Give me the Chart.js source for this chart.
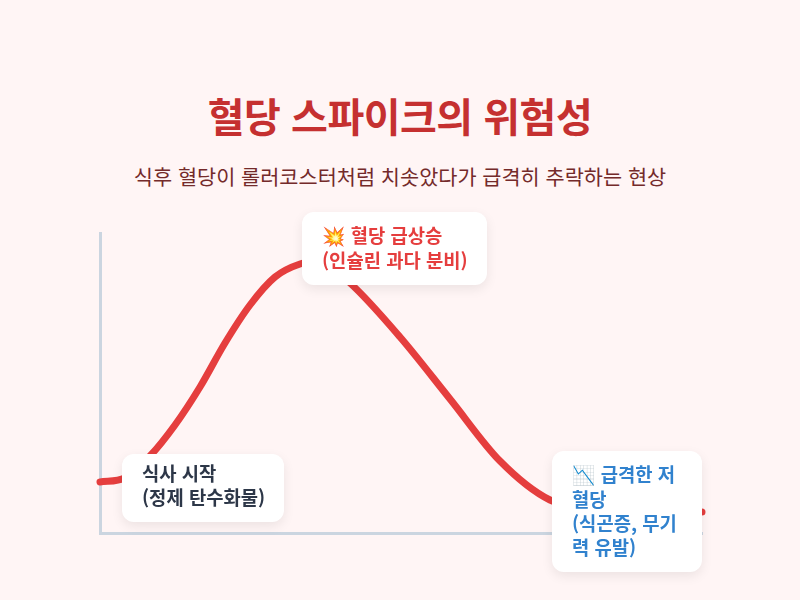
<!DOCTYPE html>
<html lang="ko">
<head>
<meta charset="utf-8">
<title>혈당 스파이크의 위험성</title>
<script src="https://cdn.jsdelivr.net/npm/chart.js@4"></script>
<style>
  html, body { margin: 0; padding: 0; }
  body {
    width: 800px; height: 600px; overflow: hidden; position: relative;
    background: #fff5f5;
    font-family: "Noto Sans CJK KR", "Noto Color Emoji", sans-serif;
  }
  h1 {
    position: absolute; left: 0; top: 85px; width: 800px; margin: 0;
    text-align: center; font-size: 40px; line-height: 60px; font-weight: 700; color: #c53030;
    letter-spacing: -0.5px;
  }
  p.sub {
    position: absolute; left: 0; top: 161px; width: 800px; margin: 0;
    text-align: center; font-size: 20.8px; line-height: 30px; color: #742a2a;
  }
  #wrap { position: absolute; left: 90px; top: 222px; width: 623px; height: 322px; }
  .card {
    position: absolute; box-sizing: border-box;
    background: #fff; border-radius: 12px; padding: 10px 20px 0;
    box-shadow: 0 4px 12px rgba(0,0,0,.08);
    font-size: 18.8px; line-height: 24px; font-weight: 700; white-space: nowrap;
  }
  .card span { line-height: 26px; display: inline-block; }
  #c1 { left: 122px; top: 454px; width: 162px; height: 68px; color: #2d3748; padding-top: 7px; }
  #c2 { left: 302px; top: 212px; width: 185px; height: 73px; color: #e53e3e; }
  #c3 { left: 552px; top: 451px; width: 150px; height: 121px; color: #3182ce; }
</style>
</head>
<body>
<h1>혈당 스파이크의 위험성</h1>
<p class="sub">식후 혈당이 롤러코스터처럼 치솟았다가 급격히 추락하는 현상</p>
<div id="wrap"><canvas id="curve" width="623" height="322"></canvas></div>
<div class="card" id="c1">식사 시작<br>(정제 탄수화물)</div>
<div class="card" id="c2"><span>💥 혈당 급상승</span><br>(인슐린 과다 분비)</div>
<div class="card" id="c3"><span>📉 급격한 저</span><br>혈당<br>(식곤증, 무기<br>력 유발)</div>
<script>
const minutes = [0, 25, 50, 75, 100, 125, 150, 175, 200, 220, 250, 300, 350, 400, 450, 500, 550, 602];
const glucose = [51, 55, 77, 108, 146, 190, 228, 256, 269, 272, 250, 196, 134, 72, 33, 23, 21, 21];

new Chart(document.getElementById('curve'), {
  type: 'line',
  data: {
    datasets: [{
      data: minutes.map((m, i) => ({ x: m, y: glucose[i] })),
      borderColor: '#e53e3e',
      borderWidth: 7,
      borderCapStyle: 'round',
      borderJoinStyle: 'round',
      pointRadius: 0,
      cubicInterpolationMode: 'monotone',
      clip: false,
      fill: false,
    }]
  },
  options: {
    responsive: false,
    animation: false,
    layout: { padding: { left: 10, right: 11, top: 11, bottom: 11 } },
    plugins: { legend: { display: false }, tooltip: { enabled: false } },
    scales: {
      x: {
        type: 'linear', min: 0, max: 602,
        grid: { display: false, drawTicks: false },
        ticks: { display: false },
        border: { display: true, color: '#cbd5e0', width: 3 },
      },
      y: {
        min: 0, max: 300,
        grid: { display: false, drawTicks: false },
        ticks: { display: false },
        border: { display: true, color: '#cbd5e0', width: 3 },
      }
    }
  }
});
</script>
</body>
</html>
